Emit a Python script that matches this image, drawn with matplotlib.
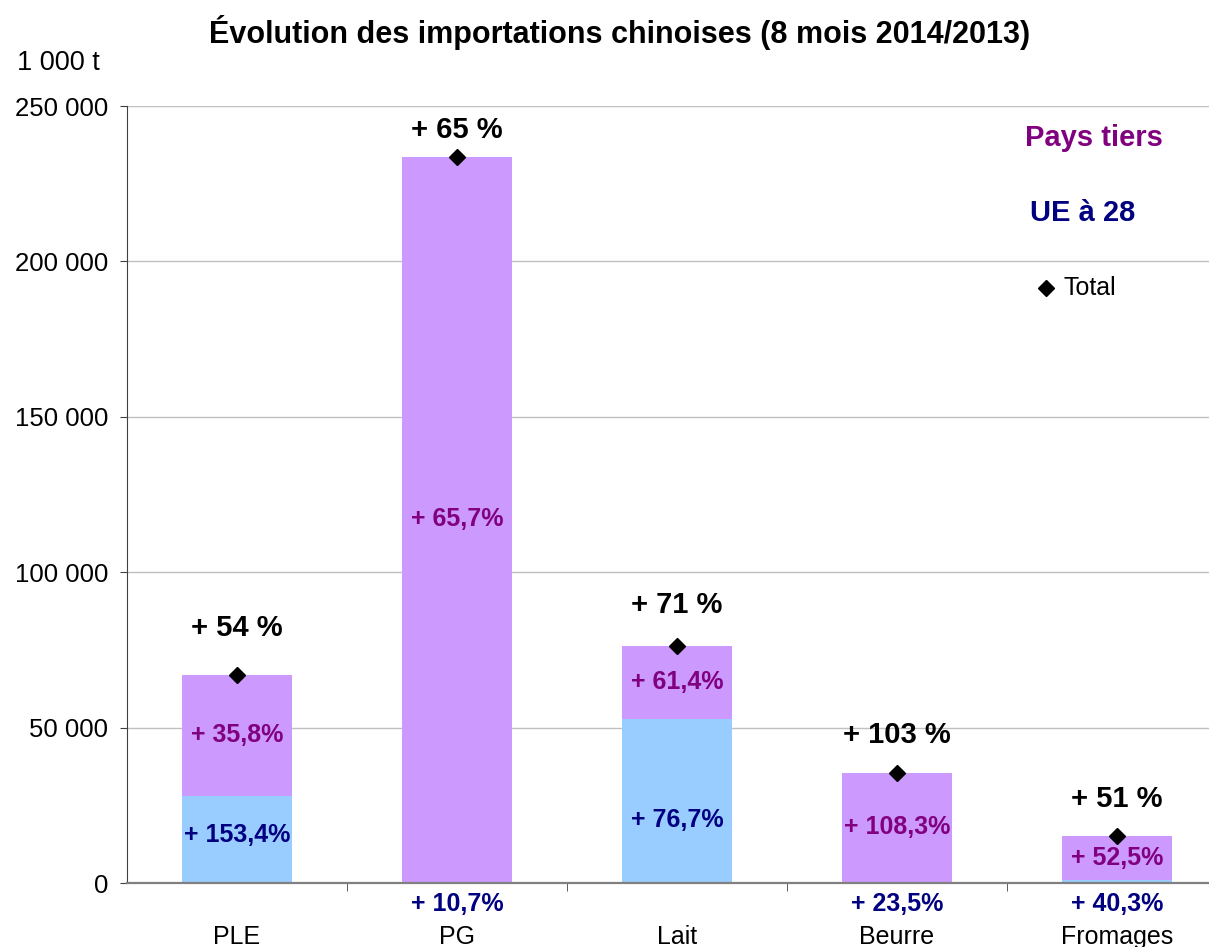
import matplotlib
matplotlib.use("Agg")
import matplotlib.pyplot as plt
from matplotlib.ticker import FuncFormatter, FixedLocator
import numpy as np

plt.rcParams['font.family'] = ['Liberation Sans', 'DejaVu Sans']

categories = ["PLE", "PG", "Lait", "Beurre", "Fromages"]
ue28 = [28000, 400, 52800, 400, 1000]
pays_tiers = [39000, 233200, 23500, 35000, 14200]
total_labels = ["+ 54 %", "+ 65 %", "+ 71 %", "+ 103 %", "+ 51 %"]
pt_labels = ["+ 35,8%", "+ 65,7%", "+ 61,4%", "+ 108,3%", "+ 52,5%"]
ue_labels = ["+ 153,4%", "+ 10,7%", "+ 76,7%", "+ 23,5%", "+ 40,3%"]

PURPLE_BAR = "#CC99FF"
BLUE_BAR = "#99CCFF"
PURPLE_TXT = "#800080"
NAVY_TXT = "#000080"

fig = plt.figure(figsize=(12.09, 9.47), dpi=100)
W, H = 1209, 947
ax = fig.add_axes([127 / W, (H - 883) / H, (W - 127) / W, (883 - 106) / H])

x = np.arange(len(categories))
totals = [u + p for u, p in zip(ue28, pays_tiers)]
ax.bar(x, ue28, width=0.5, color=BLUE_BAR, zorder=2)
ax.bar(x, pays_tiers, bottom=ue28, width=0.5, color=PURPLE_BAR, zorder=2)
ax.plot(x, totals, linestyle="none", marker="D", color="black", markersize=8, zorder=4)

ax.yaxis.set_major_locator(FixedLocator(np.arange(0, 250001, 50000)))
ax.yaxis.set_major_formatter(FuncFormatter(lambda v, p: f"{int(v):,}".replace(",", " ")))
ax.grid(axis="y", color="#C0C0C0", linewidth=1, zorder=0)
ax.set_axisbelow(True)
for s in ["top", "right"]:
    ax.spines[s].set_visible(False)
ax.spines["left"].set_color("#404040")
ax.spines["bottom"].set_color("#808080")
ax.spines["bottom"].set_linewidth(1.6)
ax.tick_params(axis="y", labelsize=18.5, length=5, color="#404040", pad=8.5)

ax.set_xticks(x)
ax.set_xticklabels(categories)
ax.tick_params(axis="x", which="major", length=0, labelsize=18, pad=30)
ax.set_xticks(np.arange(-0.5, len(categories), 1.0)[1:], minor=True)
ax.tick_params(axis="x", which="minor", length=6, color="#404040", direction="out")

ax.set_ylim(0, 250000)
ax.set_xlim(-0.5, -0.5 + (W - 127) / 220)

# total labels
offsets = [47, 27, 41, 38, 37]
for xi, t, lab, off in zip(x, totals, total_labels, offsets):
    ax.annotate(lab, (xi, t), xytext=(0, off * 0.72), textcoords="offset points",
                ha="center", va="center", fontsize=21, fontweight="bold", color="black")

# pays tiers labels (middle of segment)
for xi, u, p, lab in zip(x, ue28, pays_tiers, pt_labels):
    ax.text(xi, u + p / 2, lab, ha="center", va="center", fontsize=18,
            fontweight="bold", color=PURPLE_TXT, zorder=5)

# UE labels: inside if segment large, else below axis
ue_inside_y = [15400, None, 20300, None, None]
for xi, u, lab, yy in zip(x, ue28, ue_labels, ue_inside_y):
    if yy is not None:
        ax.text(xi, yy, lab, ha="center", va="center", fontsize=18,
                fontweight="bold", color=NAVY_TXT, zorder=5)
    else:
        ax.annotate(lab, (xi, 0), xytext=(0, -15), textcoords="offset points",
                    ha="center", va="center", fontsize=18, fontweight="bold",
                    color=NAVY_TXT, annotation_clip=False)

# legend-like texts
fig.text(1025 / W, 1 - 138 / H, "Pays tiers", ha="left", va="center", fontsize=21,
         fontweight="bold", color=PURPLE_TXT)
fig.text(1030 / W, 1 - 213 / H, "UE à 28", ha="left", va="center", fontsize=21,
         fontweight="bold", color=NAVY_TXT)
fig.lines.append(matplotlib.lines.Line2D([1046 / W], [1 - 288 / H], marker="D", color="black",
                                          markersize=8, linestyle="none",
                                          transform=fig.transFigure))
fig.text(1063 / W, 1 - 288 / H, "Total", ha="left", va="center", fontsize=18, color="black")

fig.text(620 / W, 1 - 32 / H, "Évolution des importations chinoises (8 mois 2014/2013)",
         ha="center", va="center", fontsize=22, fontweight="bold")
fig.text(17 / W, 1 - 63 / H, "1 000 t", ha="left", va="center", fontsize=19.5)

fig.savefig("out.png", dpi=100)
